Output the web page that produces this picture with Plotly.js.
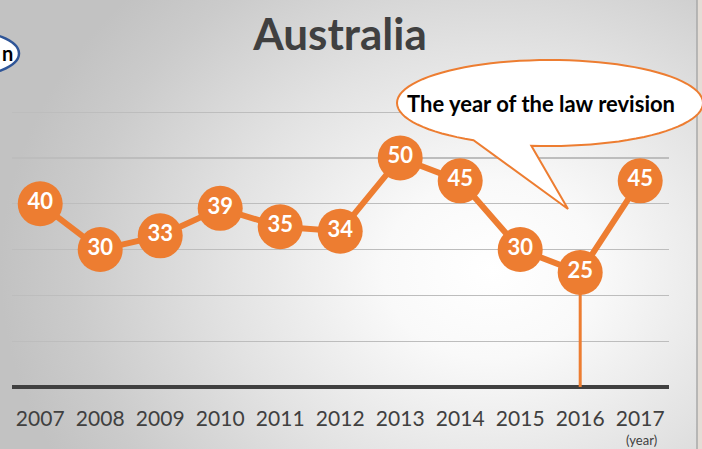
<!DOCTYPE html>
<html>
<head>
<meta charset="utf-8">
<script src="https://cdn.plot.ly/plotly-3.0.1.min.js"></script>
<style>
  html, body { margin: 0; padding: 0; }
  body {
    width: 702px; height: 449px; overflow: hidden;
    background: radial-gradient(ellipse 70% 90% at 70% 60%, #ffffff 0%, #f9f9f9 22%, #e2e2e2 55%, #cbcbcb 85%, #c2c2c2 100%);
  }
  #chart { width: 702px; height: 449px; }
</style>
</head>
<body>
<div id="chart"></div>
<script>
// ---- data ----
const years = ['2007', '2008', '2009', '2010', '2011', '2012', '2013', '2014', '2015', '2016', '2017'];
const values = [40, 30, 33, 39, 35, 34, 50, 45, 30, 25, 45];
const revisionYear = '2016';
const chartTitle = 'Australia';
const calloutText = 'The year of the law revision';
const unitLabel = '(year)';

// ---- layout helpers (pixel -> paper) ----
const PL = 12, PR = 669, PT = 103, PB = 387;
const px = x => (x - PL) / (PR - PL);
const py = y => (PB - y) / (PB - PT);

const orange = '#ED7D31';
const revisionValue = values[years.indexOf(revisionYear)];

// speech bubble: ellipse + tail as a single polygon
function bubblePath() {
  const cx = 550, cy = 103, rx = 153, ry = 43;
  const a0 = 120 * Math.PI / 180, a1 = (97 + 360) * Math.PI / 180;
  const pts = [];
  const n = 90;
  for (let i = 0; i <= n; i++) {
    const t = a0 + (a1 - a0) * i / n;
    pts.push([cx + rx * Math.cos(t), cy + ry * Math.sin(t)]);
  }
  pts.push([568, 209]);
  return 'M ' + pts.map(p => px(p[0]).toFixed(5) + ',' + py(p[1]).toFixed(5)).join(' L ') + ' Z';
}

const traces = [
  {
    x: [revisionYear, revisionYear],
    y: [revisionValue, 0],
    mode: 'lines',
    line: { color: orange, width: 3 },
    hoverinfo: 'skip',
    showlegend: false
  },
  {
    x: years,
    y: values,
    mode: 'lines+markers+text',
    text: values.map(String),
    textposition: 'middle center',
    textfont: { family: 'Lato', size: 22, color: '#ffffff', weight: 'bold' },
    line: { color: orange, width: 6 },
    marker: { size: 45, color: orange, line: { width: 0 } },
    cliponaxis: false,
    showlegend: false
  }
];

const layout = {
  width: 702, height: 449,
  margin: { l: PL, r: 702 - PR, t: PT, b: 449 - PB },
  paper_bgcolor: 'rgba(0,0,0,0)',
  plot_bgcolor: 'rgba(0,0,0,0)',
  font: { family: 'Lato', color: '#404040' },
  title: {
    text: chartTitle,
    font: { family: 'Lato', size: 44, color: '#404040', weight: 'bold' },
    x: 340 / 702, xanchor: 'center',
    y: 1 - 35 / 449, yanchor: 'middle'
  },
  xaxis: {
    type: 'category',
    categoryorder: 'array',
    categoryarray: years,
    range: [-0.47, 10.48],
    showgrid: false, showline: false, zeroline: false,
    ticks: 'outside', ticklen: 13, tickcolor: 'rgba(0,0,0,0)',
    tickfont: { family: 'Lato', size: 21, color: '#404040' },
    fixedrange: true
  },
  yaxis: {
    range: [0, 62],
    dtick: 10,
    showticklabels: false,
    showgrid: true, gridcolor: '#bdbdbd', gridwidth: 1.3,
    zeroline: true, zerolinecolor: '#404040', zerolinewidth: 4,
    showline: false, fixedrange: true
  },
  shapes: [
    {
      type: 'path', xref: 'paper', yref: 'paper',
      path: bubblePath(),
      fillcolor: '#ffffff',
      line: { color: orange, width: 2 },
      layer: 'above'
    },
    {
      type: 'circle', xref: 'paper', yref: 'paper',
      x0: px(-99), x1: px(19), y0: py(77), y1: py(30),
      fillcolor: '#ffffff',
      line: { color: '#2F5597', width: 2.5 },
      layer: 'above'
    },
    {
      type: 'rect', xref: 'paper', yref: 'paper',
      x0: px(697), x1: px(703), y0: py(450), y1: py(-1),
      fillcolor: '#e4ddd6',
      line: { width: 0 },
      layer: 'below'
    },
    {
      type: 'line', xref: 'paper', yref: 'paper',
      x0: px(697), x1: px(697), y0: py(450), y1: py(-1),
      line: { color: '#a9a9a9', width: 1.5 },
      layer: 'below'
    }
  ],
  annotations: [
    {
      xref: 'paper', yref: 'paper',
      x: px(541), y: py(103), xanchor: 'center', yanchor: 'middle',
      text: calloutText, showarrow: false,
      font: { family: 'Lato', size: 22, color: '#000000', weight: 'bold' }
    },
    {
      xref: 'paper', yref: 'paper',
      x: px(641), y: py(440), xanchor: 'center', yanchor: 'middle',
      text: unitLabel, showarrow: false,
      font: { family: 'Lato', size: 13, color: '#404040' }
    },
    {
      xref: 'paper', yref: 'paper',
      x: px(0), y: py(53), xanchor: 'left', yanchor: 'middle',
      text: 'n', showarrow: false,
      font: { family: 'Lato', size: 20, color: '#000000', weight: 'bold' }
    }
  ]
};

Plotly.newPlot('chart', traces, layout, { displayModeBar: false, staticPlot: true });
</script>
</body>
</html>
